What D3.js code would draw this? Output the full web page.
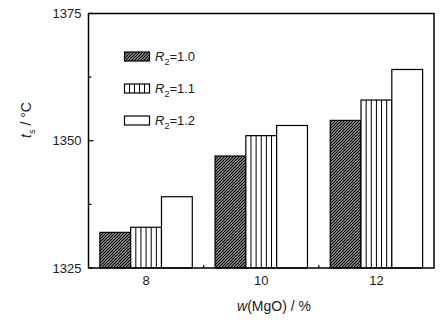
<!DOCTYPE html>
<html><head><meta charset="utf-8">
<script src="https://cdn.jsdelivr.net/npm/d3@7"></script>
<style>body{margin:0;background:#fff}svg{display:block;font-family:"Liberation Sans",Arial,sans-serif}</style>
</head><body>
<script>
const categories = [8, 10, 12];
const seriesNames = ["1.0", "1.1", "1.2"];
const r10 = [1332, 1347, 1354];
const r11 = [1333, 1351, 1358];
const r12 = [1339, 1353, 1364];
const yTicks = [1325, 1350, 1375];
const yMinor = [1337.5, 1362.5];
const xMinor = [9, 11];

const W = 447, H = 323;
const svg = d3.select("body").append("svg").attr("width", W).attr("height", H);
const defs = svg.append("defs");
const hp = defs.append("pattern").attr("id","hatch").attr("patternUnits","userSpaceOnUse")
  .attr("width",3).attr("height",3);
hp.append("rect").attr("width",3).attr("height",3).attr("fill","#fff");
hp.append("path").attr("d","M-1,1 L1,-1 M0,3 L3,0 M2,4 L4,2").attr("stroke","#000").attr("stroke-width",1.5);

const L = 88.5, R = 434, T = 13.5, B = 268;
const x = d3.scaleLinear().domain([7, 13]).range([L, R]);
const y = d3.scaleLinear().domain([1325, 1375]).range([B, T]);
const bw = 0.535;
const series = [r10, r11, r12];
const fills = ["url(#hatch)", "#fff", "#fff"];

series.forEach((vals, s) => {
  vals.forEach((v, i) => {
    const x0 = x(categories[i] + (s - 1.5) * bw), x1 = x(categories[i] + (s - 0.5) * bw);
    const g = svg.append("g");
    g.append("rect").attr("x", x0).attr("y", y(v)).attr("width", x1 - x0).attr("height", y(1325) - y(v))
      .attr("fill", fills[s]).attr("stroke", "#000").attr("stroke-width", 1.2);
    if (s === 1) {
      for (let k = 1; k < 6; k++) {
        const xx = x0 + k * (x1 - x0) / 6;
        g.append("line").attr("x1", xx).attr("x2", xx).attr("y1", y(v)).attr("y2", y(1325))
          .attr("stroke", "#000").attr("stroke-width", 1);
      }
    }
  });
});

// frame
svg.append("rect").attr("x", L).attr("y", T).attr("width", R - L).attr("height", B - T)
  .attr("fill", "none").attr("stroke", "#000").attr("stroke-width", 1.5);

// y ticks
yTicks.forEach(t => {
  svg.append("line").attr("x1", L).attr("x2", L + 5).attr("y1", y(t)).attr("y2", y(t)).attr("stroke", "#000").attr("stroke-width", 1.2);
  svg.append("text").attr("x", L - 7).attr("y", y(t) + 4.5).attr("text-anchor", "end")
    .attr("font-size", 13).attr("fill", "#222").text(t);
});
yMinor.forEach(t => {
  svg.append("line").attr("x1", L).attr("x2", L + 3).attr("y1", y(t)).attr("y2", y(t)).attr("stroke", "#000").attr("stroke-width", 1.2);
});
xMinor.forEach(t => {
  svg.append("line").attr("x1", x(t)).attr("x2", x(t)).attr("y1", B).attr("y2", B - 3).attr("stroke", "#000").attr("stroke-width", 1.2);
});
categories.forEach(c => {
  svg.append("text").attr("x", x(c)).attr("y", y(1325) + 17).attr("text-anchor", "middle")
    .attr("font-size", 13).attr("fill", "#222").text(c);
});

// axis titles
const xt = svg.append("text").attr("x", 274).attr("y", 311).attr("text-anchor", "middle").attr("font-size", 14).attr("fill", "#222");
xt.append("tspan").attr("font-style", "italic").text("w");
xt.append("tspan").text("(MgO) / %");

const yt = svg.append("text").attr("transform", "translate(31,120) rotate(-90)").attr("text-anchor", "middle").attr("font-size", 14).attr("fill", "#222");
yt.append("tspan").attr("font-style", "italic").text("t");
yt.append("tspan").attr("font-size", 9).attr("dy", 4).text("s");
yt.append("tspan").attr("dy", -4).text(" / °C");

// legend
seriesNames.forEach((n, s) => {
  const yy = 52 + s * 32;
  const g = svg.append("g");
  g.append("rect").attr("x", 124.5).attr("y", yy).attr("width", 25).attr("height", 9)
    .attr("fill", fills[s]).attr("stroke", "#000").attr("stroke-width", 1.2);
  if (s === 1) for (let k = 1; k < 5; k++) {
    g.append("line").attr("x1", 124.5 + k * 5).attr("x2", 124.5 + k * 5).attr("y1", yy).attr("y2", yy + 9).attr("stroke", "#000").attr("stroke-width", 1);
  }
  const t = g.append("text").attr("x", 155).attr("y", yy + 9).attr("font-size", 13).attr("fill", "#222");
  t.append("tspan").attr("font-style", "italic").text("R");
  t.append("tspan").attr("font-size", 9).attr("dy", 4).text("2");
  t.append("tspan").attr("dy", -4).text("=" + n);
});
</script>
</body></html>
